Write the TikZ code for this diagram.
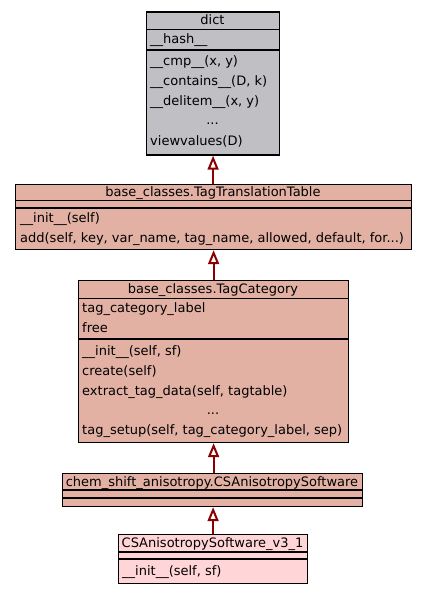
\documentclass[tikz,border=0pt]{standalone}
\usepackage{fontspec}
\setmainfont{DejaVu Sans}
\usetikzlibrary{arrows.meta}
\definecolor{DictGrey}{RGB}{192,191,196}
\definecolor{BaseSalmon}{RGB}{226,177,164}
\definecolor{LeafPink}{RGB}{255,213,215}
\definecolor{InheritRed}{RGB}{139,0,0}
\tikzset{
  classbox/.style={draw=black,line width=1.2pt,anchor=north west,inner sep=0pt},
  greybox/.style={classbox,fill=DictGrey},
  salmonbox/.style={classbox,fill=BaseSalmon},
  pinkbox/.style={classbox,fill=LeafPink},
  titleline/.style={line width=0.9pt},
  sectline/.style={line width=1.6pt},
  member/.style={anchor=base west,inner sep=0pt,font=\fontsize{13}{15}\selectfont},
  title/.style={anchor=base,inner sep=0pt,font=\fontsize{13}{15}\selectfont},
  inherit/.style={-{Triangle[open,length=14pt,width=11pt,line width=2pt]},line width=2.2pt,draw=InheritRed}
}

\begin{document}
\begin{tikzpicture}[x=1pt,y=-1pt]
  \useasboundingbox[fill=white] (0,0) rectangle (427,593);

  \node[greybox,minimum width=133pt,minimum height=143pt] (dict) at (146,11.5) {};
  \draw[titleline] (146,29) -- (279,29);
  \draw[sectline] (146,50) -- (279,50);
  \node[title] (dictT) at (212.5,24.5) {dict};
  \node[member] (dictA) at (150,44) {\_\_hash\_\_};
  \node[member] (dictM1) at (150,65.5) {\_\_cmp\_\_(x, y)};
  \node[member] (dictM2) at (150,85.5) {\_\_contains\_\_(D, k)};
  \node[member] (dictM3) at (150,105.5) {\_\_delitem\_\_(x, y)};
  \node[title] (dictM4) at (212.5,125) {...};
  \node[member] (dictM5) at (150,145.5) {viewvalues(D)};

  \node[salmonbox,minimum width=396pt,minimum height=65pt] (ttt) at (15,184) {};
  \draw[titleline] (15,200) -- (411,200);
  \draw[sectline] (15,208) -- (411,208);
  \node[title] (tttT) at (213,196.5) {base\_classes.TagTranslationTable};
  \node[member] (tttM1) at (20,222.5) {\_\_init\_\_(self)};
  \node[member] (tttM2) at (20,243) {add(self, key, var\_name, tag\_name, allowed, default, for...)};

  \node[salmonbox,minimum width=270pt,minimum height=162pt] (cat) at (78,280) {};
  \draw[titleline] (78,298) -- (348,298);
  \draw[sectline] (78,339) -- (348,339);
  \node[title] (catT) at (213,293) {base\_classes.TagCategory};
  \node[member] (catA1) at (82,312.5) {tag\_category\_label};
  \node[member] (catA2) at (82,332.5) {free};
  \node[member] (catM1) at (82,355) {\_\_init\_\_(self, sf)};
  \node[member] (catM2) at (82,375) {create(self)};
  \node[member] (catM3) at (82,395) {extract\_tag\_data(self, tagtable)};
  \node[title] (catM4) at (213,414.5) {...};
  \node[member] (catM5) at (82,434.5) {tag\_setup(self, tag\_category\_label, sep)};

  \node[salmonbox,minimum width=300pt,minimum height=33pt] (csa) at (62,473) {};
  \draw[sectline] (62,490) -- (362,490);
  \draw[sectline] (62,498) -- (362,498);
  \node[title] (csaT) at (212,486) {chem\_shift\_anisotropy.CSAnisotropySoftware};

  \node[pinkbox,minimum width=189pt,minimum height=49pt] (v31) at (118,534) {};
  \draw[sectline] (118,552) -- (307,552);
  \draw[sectline] (118,559) -- (307,559);
  \node[title] (v31T) at (212.5,547.5) {CSAnisotropySoftware\_v3\_1};
  \node[member] (v31M1) at (122,575) {\_\_init\_\_(self, sf)};

  \draw[inherit] (ttt.north -| dict.south) -- (dict.south);
  \draw[inherit] (cat.north) -- (ttt.south -| cat.north);
  \draw[inherit] (csa.north -| cat.south) -- (cat.south);
  \draw[inherit] (v31.north) -- (csa.south -| v31.north);
\end{tikzpicture}
\end{document}
